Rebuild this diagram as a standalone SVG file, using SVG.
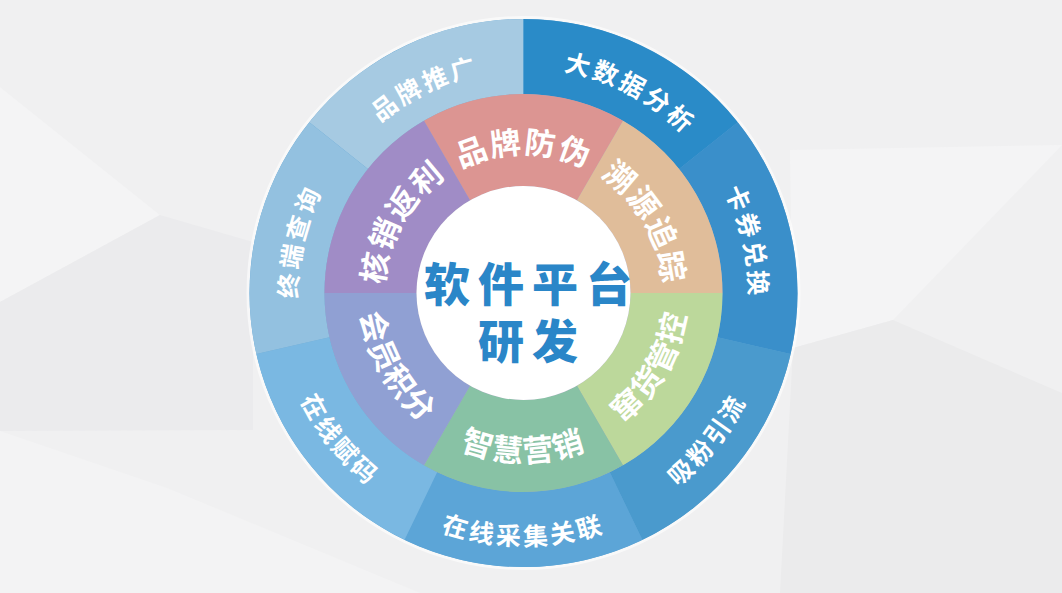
<svg xmlns="http://www.w3.org/2000/svg" width="1062" height="593" viewBox="0 0 1062 593">
  <style>
    .lbl { font-family: 'Noto Sans CJK SC', 'Noto Sans CJK JP', sans-serif; font-weight: 700; fill: #ffffff; }
    .outer { font-size: 25px; letter-spacing: 3px; }
    .inner { font-size: 31px; letter-spacing: 1.5px; }
    .center { font-family: 'Noto Sans CJK SC', 'Noto Sans CJK JP', sans-serif; font-weight: 900; font-size: 46px; letter-spacing: 8px; fill: #2a86c8; }
  </style>
  <defs>
    <path id="tp-o1" d="M320.69,201.47 A222.5,222.5 0 0 1 578.40,77.38"/>
    <path id="tp-o2" d="M476.62,72.43 A225.5,225.5 0 0 1 732.58,208.53"/>
    <path id="tp-o3" d="M659.58,113.18 A225.5,225.5 0 0 1 724.17,395.88"/>
    <path id="tp-o4" d="M572.54,535.59 A247.5,247.5 0 0 0 770.92,286.83"/>
    <path id="tp-o5" d="M361.20,486.43 A252.5,252.5 0 0 0 685.80,486.43"/>
    <path id="tp-o6" d="M276.08,286.83 A247.5,247.5 0 0 0 474.46,535.59"/>
    <path id="tp-o7" d="M322.83,395.88 A225.5,225.5 0 0 1 387.42,113.18"/>
    <path id="tp-i1" d="M392.69,245.39 A139.2,139.2 0 0 1 654.31,245.39"/>
    <path id="tp-i2" d="M499.33,155.91 A139.2,139.2 0 0 1 630.13,382.48"/>
    <path id="tp-i3" d="M495.02,454.51 A164,164 0 0 0 649.13,187.58"/>
    <path id="tp-i4" d="M364.69,350.80 A169,169 0 0 0 682.31,350.80"/>
    <path id="tp-i5" d="M397.87,187.58 A164,164 0 0 0 551.98,454.51"/>
    <path id="tp-i6" d="M416.87,382.48 A139.2,139.2 0 0 1 547.67,155.91"/>
  </defs>

  <g id="background">
    <rect x="0" y="0" width="1062" height="593" fill="#f0f0f1"/>
    <polygon points="0,87 160,215 0,302" fill="#f4f4f5"/>
    <polygon points="0,302 160,215 253,242 253,430 0,431" fill="#ebebed"/>
    <polygon points="0,431 167,488 420,593 0,593" fill="#f3f3f4"/>
    <polygon points="790,150 1062,145 893,320 793,348" fill="#f4f4f5"/>
    <polygon points="793,348 893,320 1062,393 1062,593 780,593" fill="#ebebec"/>
  </g>

  <circle cx="523.5" cy="293" r="277" fill="#ffffff" opacity="0.6"/>
  <circle cx="523.5" cy="293" r="274" fill="#5ea3d3"/>
  <circle cx="523.5" cy="293" r="199" fill="#a9a8c0"/>

  <g id="outer-ring">
    <g id="seg-pinpaituiguang">
      <path d="M309.28,122.16 A274,274 0 0 1 523.5,19 L523.5,94 A199,199 0 0 0 367.92,168.93 Z" fill="#a6cae2"/>
      <text class="lbl outer"><textPath href="#tp-o1" startOffset="50%" text-anchor="middle">品牌推广</textPath></text>
    </g>
    <g id="seg-dashujufenxi">
      <path d="M523.5,19 A274,274 0 0 1 737.72,122.16 L679.08,168.93 A199,199 0 0 0 523.5,94 Z" fill="#2a8bc8"/>
      <text class="lbl outer"><textPath href="#tp-o2" startOffset="50%" text-anchor="middle">大数据分析</textPath></text>
    </g>
    <g id="seg-kaquanduihuan">
      <path d="M737.72,122.16 A274,274 0 0 1 790.63,353.97 L717.51,337.28 A199,199 0 0 0 679.08,168.93 Z" fill="#3a8fca"/>
      <text class="lbl outer"><textPath href="#tp-o3" startOffset="50%" text-anchor="middle">卡券兑换</textPath></text>
    </g>
    <g id="seg-xifenyinliu">
      <path d="M790.63,353.97 A274,274 0 0 1 642.38,539.87 L609.84,472.29 A199,199 0 0 0 717.51,337.28 Z" fill="#4a9acd"/>
      <text class="lbl outer"><textPath href="#tp-o4" startOffset="50%" text-anchor="middle">吸粉引流</textPath></text>
    </g>
    <g id="seg-zaixiancaijiguanlian">
      <path d="M642.38,539.87 A274,274 0 0 1 404.62,539.87 L437.16,472.29 A199,199 0 0 0 609.84,472.29 Z" fill="#5ca5d7"/>
      <text class="lbl outer"><textPath href="#tp-o5" startOffset="50%" text-anchor="middle">在线采集关联</textPath></text>
    </g>
    <g id="seg-zaixianfuma">
      <path d="M404.62,539.87 A274,274 0 0 1 256.37,353.97 L329.49,337.28 A199,199 0 0 0 437.16,472.29 Z" fill="#7ab8e2"/>
      <text class="lbl outer"><textPath href="#tp-o6" startOffset="50%" text-anchor="middle">在线赋码</textPath></text>
    </g>
    <g id="seg-zhongduanchaxun">
      <path d="M256.37,353.97 A274,274 0 0 1 309.28,122.16 L367.92,168.93 A199,199 0 0 0 329.49,337.28 Z" fill="#93c1e0"/>
      <text class="lbl outer"><textPath href="#tp-o7" startOffset="50%" text-anchor="middle">终端查询</textPath></text>
    </g>
  </g>

  <g id="inner-ring">
    <g id="seg-pinpaifangwei">
      <path d="M424,120.66 A199,199 0 0 1 623,120.66 L577,200.34 A107,107 0 0 0 470,200.34 Z" fill="#dc9592"/>
      <text class="lbl inner"><textPath href="#tp-i1" startOffset="50%" text-anchor="middle">品牌防伪</textPath></text>
    </g>
    <g id="seg-suyuanzhuizong">
      <path d="M623,120.66 A199,199 0 0 1 722.5,293 L630.5,293 A107,107 0 0 0 577,200.34 Z" fill="#e0bd9a"/>
      <text class="lbl inner"><textPath href="#tp-i2" startOffset="50%" text-anchor="middle">溯源追踪</textPath></text>
    </g>
    <g id="seg-cuanhuoguankong">
      <path d="M722.5,293 A199,199 0 0 1 623,465.34 L577,385.66 A107,107 0 0 0 630.5,293 Z" fill="#bcd89b"/>
      <text class="lbl inner"><textPath href="#tp-i3" startOffset="50%" text-anchor="middle">窜货管控</textPath></text>
    </g>
    <g id="seg-zhihuiyingxiao">
      <path d="M623,465.34 A199,199 0 0 1 424,465.34 L470,385.66 A107,107 0 0 0 577,385.66 Z" fill="#88c2a5"/>
      <text class="lbl inner"><textPath href="#tp-i4" startOffset="50%" text-anchor="middle">智慧营销</textPath></text>
    </g>
    <g id="seg-huiyuanjifen">
      <path d="M424,465.34 A199,199 0 0 1 324.5,293 L416.5,293 A107,107 0 0 0 470,385.66 Z" fill="#90a0d3"/>
      <text class="lbl inner"><textPath href="#tp-i5" startOffset="50%" text-anchor="middle">会员积分</textPath></text>
    </g>
    <g id="seg-hexiaofanli">
      <path d="M324.5,293 A199,199 0 0 1 424,120.66 L470,200.34 A107,107 0 0 0 416.5,293 Z" fill="#a08cc6"/>
      <text class="lbl inner"><textPath href="#tp-i6" startOffset="50%" text-anchor="middle">核销返利</textPath></text>
    </g>
  </g>

  <g id="center">
    <circle cx="523.5" cy="293" r="107" fill="#ffffff"/>
    <text class="center" x="532" y="301" text-anchor="middle">软件平台</text>
    <text class="center" x="532" y="358" text-anchor="middle">研发</text>
  </g>

  <g id="connectors"/>
</svg>
